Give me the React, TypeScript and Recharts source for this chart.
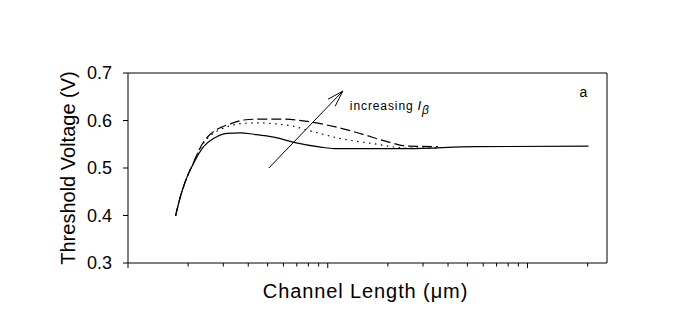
import {
  LineChart,
  Line,
  XAxis,
  YAxis,
  ReferenceLine,
  ReferenceDot,
  Label,
} from 'recharts';

// channel length (um) and threshold voltage (V)
const solidLength = [0.173, 0.183, 0.1934, 0.213, 0.239, 0.268, 0.313, 0.365, 0.426, 0.537, 0.677, 0.922, 1.08, 2.51, 5.43, 20.2];
const solidVt = [0.399, 0.44, 0.471, 0.51, 0.545, 0.562, 0.573, 0.574, 0.571, 0.565, 0.554, 0.544, 0.541, 0.541, 0.545, 0.546];

const dottedLength = [0.173, 0.183, 0.1934, 0.213, 0.235, 0.258, 0.29, 0.326, 0.38, 0.45, 0.55, 0.653, 0.853, 1.16, 1.71, 2.51, 3.56];
const dottedVt = [0.399, 0.44, 0.471, 0.511, 0.548, 0.568, 0.581, 0.589, 0.594, 0.595, 0.593, 0.589, 0.576, 0.562, 0.551, 0.542, 0.542];

const dashedLength = [0.173, 0.183, 0.1934, 0.213, 0.235, 0.258, 0.29, 0.326, 0.38, 0.461, 0.58, 0.791, 1.08, 1.47, 2.0, 2.51, 3.56];
const dashedVt = [0.399, 0.44, 0.471, 0.512, 0.55, 0.571, 0.585, 0.593, 0.601, 0.603, 0.603, 0.598, 0.587, 0.572, 0.555, 0.546, 0.545];

const xTicks = [
  0.1, 0.2, 0.3, 0.4, 0.5, 0.6, 0.7, 0.8, 0.9,
  1, 2, 3, 4, 5, 6, 7, 8, 9,
  10, 20,
];
const majorTicks = [0.1, 1, 10];
const yTicks = [0.3, 0.4, 0.5, 0.6, 0.7];
const xDomain = [0.1, 25];
const yDomain = [0.3, 0.7];

// arrow "increasing I_beta"
const arrowFrom = { x: 0.507, y: 0.5 };
const arrowTo = { x: 1.19, y: 0.662 };
const notePos = { x: 1.29, y: 0.622 };
const panelPos = { x: 18.2, y: 0.649 };

const font = '"Liberation Sans", Arial, sans-serif';

const toPoints = (ls: number[], vs: number[]) => ls.map((L, i) => ({ L, V: vs[i] }));

const XTick = (props: any) => {
  const { x, y, payload } = props;
  const len = majorTicks.includes(payload.value) ? 5 : 3.5;
  return <line x1={x} y1={y} x2={x} y2={y + len} stroke="#000" strokeWidth={1} />;
};

const Arrow = (props: any) => {
  const { x1, y1, x2, y2 } = props;
  const ang = Math.atan2(y2 - y1, x2 - x1);
  const len = 17;
  const a1 = ang + Math.PI - 0.3;
  const a2 = ang + Math.PI + 0.3;
  return (
    <g stroke="#000" strokeWidth={1}>
      <line x1={x1} y1={y1} x2={x2} y2={y2} />
      <line x1={x2} y1={y2} x2={x2 + len * Math.cos(a1)} y2={y2 + len * Math.sin(a1)} />
      <line x1={x2} y1={y2} x2={x2 + len * Math.cos(a2)} y2={y2 + len * Math.sin(a2)} />
    </g>
  );
};

const Note = (props: any) => (
  <text x={props.cx} y={props.cy} fontSize={12} fontFamily={font} letterSpacing={0.9} fill="#000">
    increasing
    <tspan dx={4} fontStyle="italic" fontSize={13}>I</tspan>
    <tspan dy={4} fontSize={12} fontStyle="italic">β</tspan>
  </text>
);

const PanelTag = (props: any) => (
  <text x={props.cx} y={props.cy} fontSize={14} fontFamily={font} fill="#000">a</text>
);

export default function App() {
  return (
    <div style={{ position: 'absolute', left: 0, top: 0, background: '#fff' }}>
      <LineChart
        width={679}
        height={334}
        margin={{ top: 73, right: 72, bottom: 0, left: 0 }}
        style={{ fontFamily: font }}
      >
        <XAxis
          dataKey="L"
          type="number"
          scale="log"
          domain={xDomain}
          allowDataOverflow
          ticks={xTicks}
          interval={0}
          height={71}
          stroke="#000"
          tickLine={false}
          tickSize={0}
          tickMargin={0}
          tick={<XTick />}
        >
          <Label
            content={({ viewBox }: any) => (
              <text
                x={viewBox.x + viewBox.width / 2 - 2}
                y={298}
                textAnchor="middle"
                fontSize={20}
                letterSpacing={0.9}
                fontFamily={font}
                fill="#000"
              >
                Channel Length (μm)
              </text>
            )}
          />
        </XAxis>
        <YAxis
          type="number"
          domain={yDomain}
          ticks={yTicks}
          width={128}
          stroke="#000"
          tickSize={5}
          tickMargin={11}
          tickFormatter={(v: number) => v.toFixed(1)}
          tick={{ fill: '#000', fontSize: 18, fontFamily: font }}
        >
          <Label
            content={() => (
              <text
                x={75}
                y={168}
                transform="rotate(-90, 75, 168)"
                textAnchor="middle"
                fontSize={20}
                fontFamily={font}
                fill="#000"
              >
                Threshold Voltage (V)
              </text>
            )}
          />
        </YAxis>

        {/* top and right edges of the frame */}
        <ReferenceLine y={yDomain[1]} stroke="#000" strokeWidth={1} ifOverflow="visible" />
        <ReferenceLine x={xDomain[1]} stroke="#000" strokeWidth={1} ifOverflow="visible" />

        <Line
          data={toPoints(solidLength, solidVt)}
          dataKey="V"
          type="monotone"
          stroke="#000"
          strokeWidth={1.2}
          dot={false}
          isAnimationActive={false}
        />
        <Line
          data={toPoints(dottedLength, dottedVt)}
          dataKey="V"
          type="monotone"
          stroke="#000"
          strokeWidth={1.2}
          strokeDasharray="1.5 4.5"
          dot={false}
          isAnimationActive={false}
        />
        <Line
          data={toPoints(dashedLength, dashedVt)}
          dataKey="V"
          type="monotone"
          stroke="#000"
          strokeWidth={1.2}
          strokeDasharray="10 4"
          dot={false}
          isAnimationActive={false}
        />

        <ReferenceLine segment={[arrowFrom, arrowTo]} ifOverflow="visible" shape={<Arrow />} />
        <ReferenceDot x={notePos.x} y={notePos.y} r={0} ifOverflow="visible" shape={<Note />} />
        <ReferenceDot x={panelPos.x} y={panelPos.y} r={0} ifOverflow="visible" shape={<PanelTag />} />
      </LineChart>
    </div>
  );
}
